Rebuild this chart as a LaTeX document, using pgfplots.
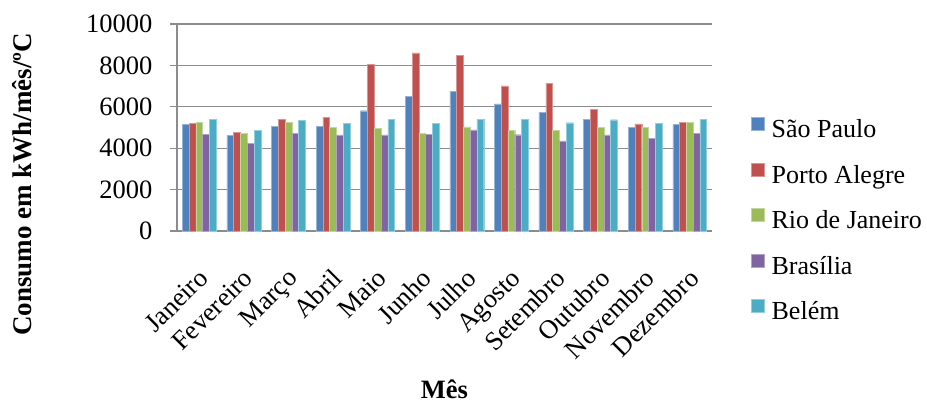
\documentclass[border=0pt]{standalone}
\usepackage{fontspec}
\setmainfont{Liberation Serif}
\usepackage{pgfplots}
\usepackage{pgfplotstable}
\pgfplotsset{compat=1.18}
\definecolor{cSP}{HTML}{4F81BD}
\definecolor{cPA}{HTML}{C0504D}
\definecolor{cRJ}{HTML}{9BBB59}
\definecolor{cBR}{HTML}{8064A2}
\definecolor{cBE}{HTML}{4BACC6}
\definecolor{gridc}{HTML}{8C8C8C}
\pgfplotstableread{
x SP PA RJ BR BE
0 5150 5200 5250 4670 5395
1 4620 4770 4730 4235 4860
2 5055 5410 5250 4720 5345
3 5055 5490 5005 4640 5200
4 5810 8065 4975 4640 5395
5 6505 8600 4720 4685 5200
6 6745 8500 5025 4880 5410
7 6135 7005 4845 4650 5410
8 5730 7130 4860 4350 5230
9 5410 5890 5005 4640 5375
10 5005 5170 4990 4490 5215
11 5150 5265 5250 4720 5395
}\datatable
\begin{document}
\begin{tikzpicture}
\begin{axis}[
  scale only axis,
  width=535pt, height=207pt,
  clip=false,
  ybar=0pt, bar width=0.152,
  ymin=0, ymax=10000,
  ytick={0,2000,...,10000},
  scaled y ticks=false,
  xmin=-0.5, xmax=11.5,
  xtick=data,
  xticklabels={Janeiro,Fevereiro,Março,Abril,Maio,Junho,Julho,Agosto,Setembro,Outubro,Novembro,Dezembro},
  /pgf/number format/assume math mode=true,
  /pgf/number format/1000 sep={},
  axis lines=left,
  axis line style={-, gridc, line width=1.2pt},
  ymajorgrids,
  major grid style={gridc, line width=1.2pt},
  y tick style={gridc, line width=1.2pt},
  major tick length=7pt,
  tick align=outside,
  x tick style={draw=none},
  tick label style={font=\fontsize{26.5}{30}\selectfont},
  xticklabel style={rotate=45, anchor=north east, inner sep=1pt, yshift=-18pt, xshift=-21pt},
  yticklabel style={xshift=-14pt},
  ylabel={Consumo em kWh/mês/ºC},
  xlabel={Mês},
  every axis y label/.style={at={(axis description cs:-0.29,0.225)}, rotate=90, anchor=center, font=\fontsize{27}{31}\selectfont\bfseries},
  every axis x label/.style={at={(axis description cs:0.5,-0.765)}, anchor=center, inner sep=0pt, font=\fontsize{26.5}{31}\selectfont\bfseries},
  legend style={draw=none, font=\fontsize{26}{30}\selectfont, at={(axis description cs:1.073,0.55)}, anchor=north west, row sep=22.5pt, inner sep=0pt, nodes={inner sep=1pt}},
  legend cell align=left,
  legend image code/.code={\fill[#1] (0pt,-1pt) rectangle (13pt,12pt); \path (19pt,0pt);},
]
\addplot[fill=cSP, draw=cSP!60!white, line width=0.4pt] table[x=x,y=SP]{\datatable};
\addplot[fill=cPA, draw=cPA!60!white, line width=0.4pt] table[x=x,y=PA]{\datatable};
\addplot[fill=cRJ, draw=cRJ!60!white, line width=0.4pt] table[x=x,y=RJ]{\datatable};
\addplot[fill=cBR, draw=cBR!60!white, line width=0.4pt] table[x=x,y=BR]{\datatable};
\addplot[fill=cBE, draw=cBE!60!white, line width=0.4pt] table[x=x,y=BE]{\datatable};
\legend{São Paulo,Porto Alegre,Rio de Janeiro,Brasília,Belém}
\path (axis description cs:-0.3308,-0.8406) rectangle (axis description cs:1.4019,1.1159);
\end{axis}
\end{tikzpicture}
\end{document}
